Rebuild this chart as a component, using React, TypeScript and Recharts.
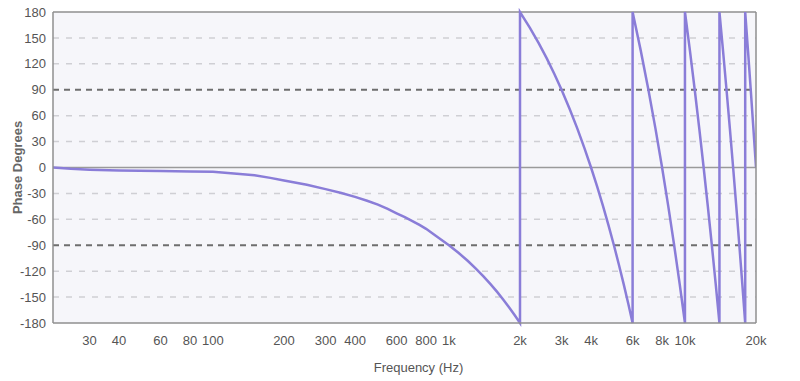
import React from 'react';
import { LineChart, Line, XAxis, YAxis, CartesianGrid, ReferenceLine, Label } from 'recharts';

// Frequency (Hz) / phase (degrees), wrap points listed twice (-180 then +180)
const freqHz = [
  21, 25, 30, 40, 60, 80, 100, 130, 150, 175, 200, 250, 300, 350, 400, 450, 500, 550, 600, 650, 700, 750, 800,
  900, 1000, 1100, 1200, 1300, 1400, 1500, 1600, 1700, 1800, 1900, 2000,
  2000, 2200, 2400, 2600, 2800, 3000, 3250, 3500, 3750, 4000, 4250, 4500, 4750, 5000, 5250, 5500, 5750, 6000,
  6000, 6500, 7000, 7500, 8000, 8500, 9000, 9500, 10000,
  10000, 10500, 11000, 11500, 12000, 12500, 13000, 13500, 14000,
  14000, 14500, 15000, 15500, 16000, 16500, 17000, 17500, 18000,
  18000, 18500, 19000, 19500, 20000,
];
const phaseDeg = [
  0, -1.5, -2.5, -3.5, -4, -4.5, -5, -7.5, -9, -12, -15, -20, -25, -29.5, -34, -38.5, -43, -48, -53, -57.5, -62,
  -66.5, -71, -81, -90, -99, -108, -117, -126, -135, -144, -153, -162, -171, -180,
  180, 162, 144, 126, 108, 90, 67.5, 45, 22.5, 0, -22.5, -45, -67.5, -90, -112.5, -135, -157.5, -180,
  180, 135, 90, 45, 0, -45, -90, -135, -180,
  180, 135, 90, 45, 0, -45, -90, -135, -180,
  180, 135, 90, 45, 0, -45, -90, -135, -180,
  180, 135, 90, 45, 0,
];

const xTicks = [30, 40, 60, 80, 100, 200, 300, 400, 600, 800, 1000, 2000, 3000, 4000, 6000, 8000, 10000, 20000];
const yTicks = [-180, -150, -120, -90, -60, -30, 0, 30, 60, 90, 120, 150, 180];
const lightGrid = [150, 120, 60, 30, -30, -60, -120, -150];
const darkGrid = [90, -90];

const data = freqHz.map((f, i) => ({ f, phase: phaseDeg[i] }));

const FONT = "'Liberation Sans Narrow', 'Arial Narrow', 'Liberation Sans', Arial, sans-serif";
const TEXT = '#555';
const BORDER = '#8f8f8f';

const fmtFreq = (v: number) => (v >= 1000 ? `${v / 1000}k` : `${v}`);

export default function App() {
  return (
    <div style={{ position: 'absolute', left: 0, top: 0, width: 800, height: 381, background: '#fff' }}>
      <LineChart width={800} height={381} data={data} margin={{ top: 12, right: 0, bottom: 0, left: 0 }}>
        <CartesianGrid yAxisId="left" horizontal={false} vertical={false} fill="#f6f6fa" />
        <XAxis
          dataKey="f"
          type="number"
          scale="log"
          domain={[21, 20000]}
          allowDataOverflow
          ticks={xTicks}
          interval={0}
          tickFormatter={fmtFreq}
          height={58}
          tickLine={false}
          tickSize={6}
          tickMargin={7}
          axisLine={{ stroke: BORDER, strokeWidth: 1.5 }}
          tick={{ fill: TEXT, fontSize: 13, fontFamily: FONT }}
        >
          <Label
            content={(props: any) => {
              const vb = props.viewBox || { x: 53, y: 323, width: 703, height: 58 };
              return (
                <text
                  x={vb.x + vb.width / 2 + 14}
                  y={372}
                  textAnchor="middle"
                  fill={TEXT}
                  fontSize={13}
                  fontFamily={FONT}
                >
                  Frequency (Hz)
                </text>
              );
            }}
          />
        </XAxis>
        <YAxis
          yAxisId="left"
          orientation="left"
          domain={[-180, 180]}
          ticks={yTicks}
          interval={0}
          width={53}
          tickLine={false}
          tickSize={6}
          tickMargin={1}
          axisLine={{ stroke: BORDER, strokeWidth: 1.5 }}
          tick={{ fill: TEXT, fontSize: 13, fontFamily: FONT }}
        >
          <Label
            content={(props: any) => {
              const vb = props.viewBox || { x: 0, y: 12, width: 53, height: 311 };
              const cy = vb.y + vb.height / 2;
              return (
                <text
                  x={22}
                  y={cy}
                  transform={`rotate(-90, 22, ${cy})`}
                  textAnchor="middle"
                  fill="#666"
                  fontSize={13}
                  fontWeight="bold"
                  fontFamily={FONT}
                >
                  Phase Degrees
                </text>
              );
            }}
          />
        </YAxis>
        <YAxis
          yAxisId="right"
          orientation="right"
          domain={[-180, 180]}
          ticks={yTicks}
          interval={0}
          width={44}
          tickLine={false}
          tickSize={6}
          tickMargin={1}
          axisLine={{ stroke: BORDER, strokeWidth: 1.5 }}
          tick={{ fill: TEXT, fontSize: 13, fontFamily: FONT }}
        />
        {lightGrid.map((v) => (
          <ReferenceLine key={`l${v}`} yAxisId="left" y={v} stroke="#cfcfd4" strokeWidth={1.5} strokeDasharray="6 7" />
        ))}
        {darkGrid.map((v) => (
          <ReferenceLine key={`d${v}`} yAxisId="left" y={v} stroke="#6e6e6e" strokeWidth={2} strokeDasharray="6 5" />
        ))}
        <ReferenceLine yAxisId="left" y={0} stroke="#9a9a9a" strokeWidth={1.5} />
        <ReferenceLine yAxisId="left" y={180} stroke={BORDER} strokeWidth={1.5} />
        <Line
          yAxisId="left"
          type="linear"
          dataKey="phase"
          stroke="#8a7dd8"
          strokeWidth={2.5}
          dot={false}
          activeDot={false}
          isAnimationActive={false}
        />
      </LineChart>
    </div>
  );
}
